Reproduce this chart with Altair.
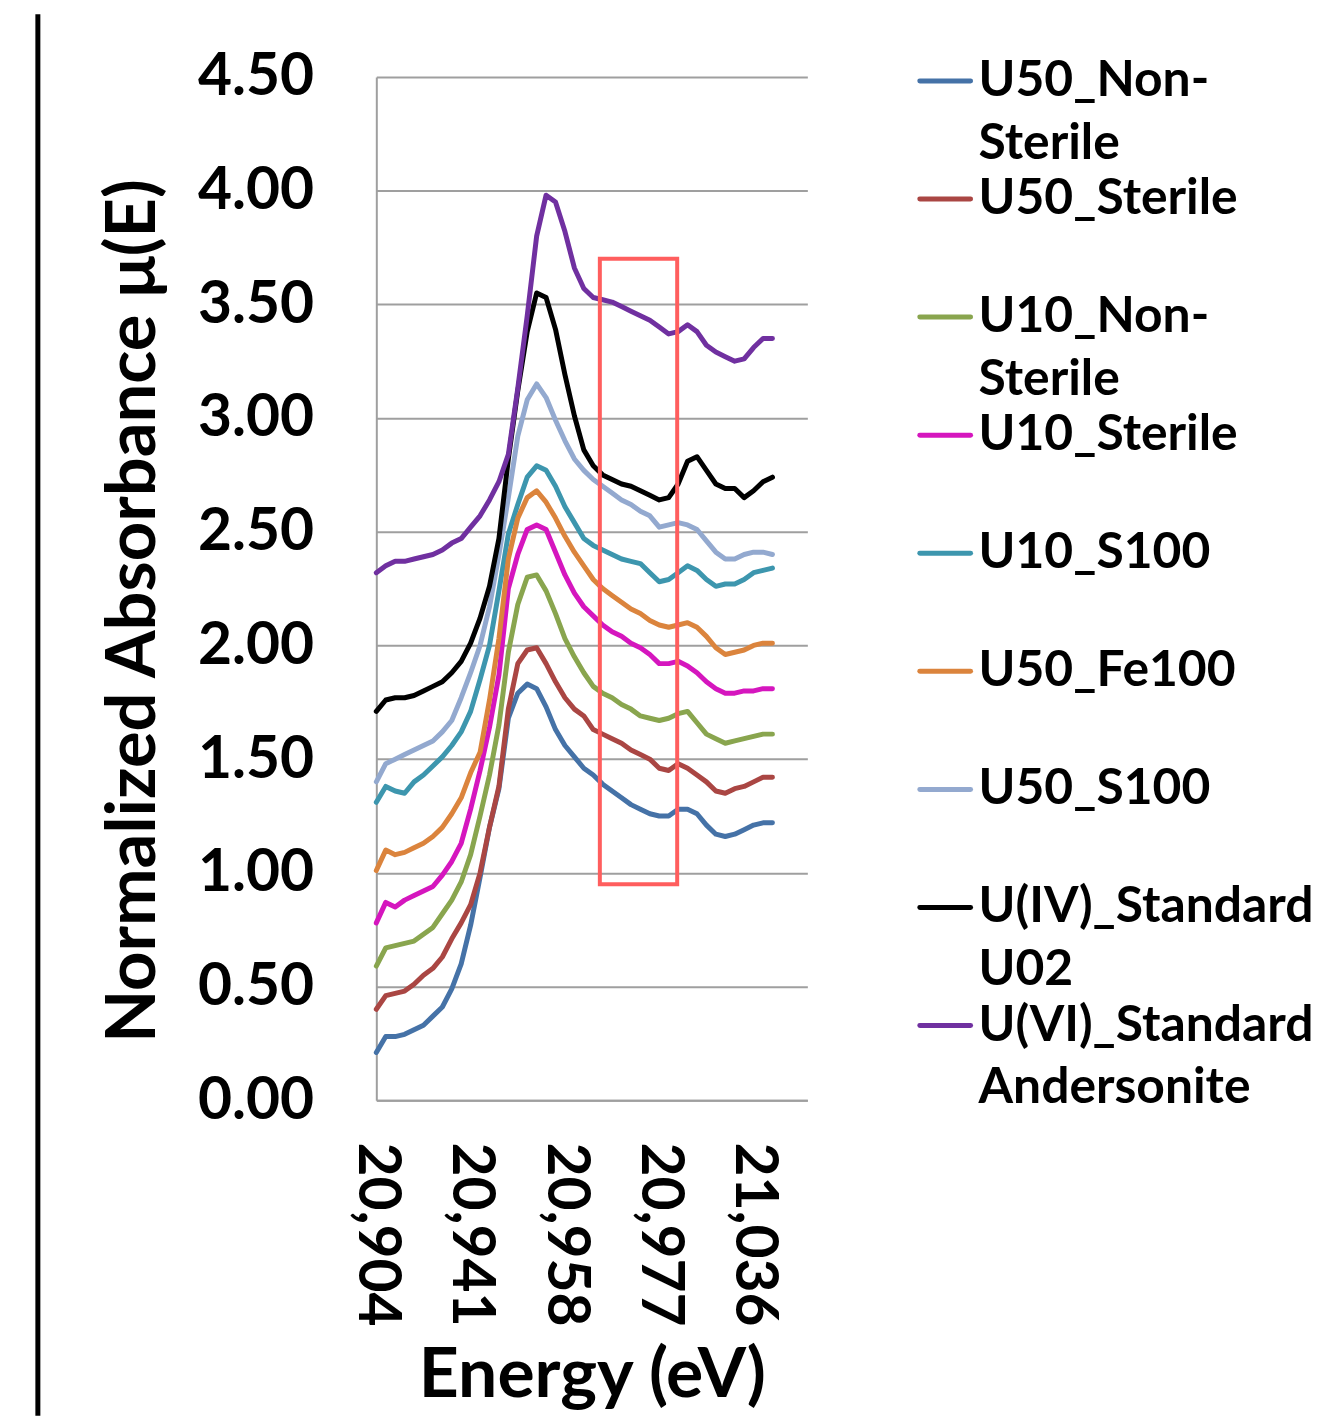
import altair as alt
import pandas as pd

# ---------------- data ----------------
energy_labels = ["20,904", "20,941", "20,958", "20,977", "21,036"]
label_positions = [0, 10, 20, 30, 40]
point_index = list(range(43))

series_names = [
    "U50_Non-Sterile", "U50_Sterile", "U10_Non-Sterile", "U10_Sterile",
    "U10_S100", "U50_Fe100", "U50_S100",
    "U(IV)_Standard U02", "U(VI)_Standard Andersonite",
]
series_colors = ["#4572A7", "#AA4643", "#89A54E", "#D516BE",
                 "#3D96AE", "#DB843D", "#93A9CF", "#000000", "#7030A0"]
legend_line1 = ["U50_Non-", "U50_Sterile", "U10_Non-", "U10_Sterile",
                "U10_S100", "U50_Fe100", "U50_S100", "U(IV)_Standard", "U(VI)_Standard"]
legend_line2 = ["Sterile", "", "Sterile", "", "", "", "", "U02", "Andersonite"]

u50_non_sterile = [0.21, 0.28, 0.28, 0.29, 0.31, 0.33, 0.37, 0.41, 0.49, 0.60,
                   0.77, 0.98, 1.20, 1.37, 1.68, 1.79, 1.83, 1.81, 1.73, 1.63,
                   1.56, 1.51, 1.46, 1.43, 1.39, 1.36, 1.33, 1.30, 1.28, 1.26,
                   1.25, 1.25, 1.28, 1.28, 1.26, 1.21, 1.17, 1.16, 1.17, 1.19,
                   1.21, 1.22, 1.22]
u50_sterile = [0.40, 0.46, 0.47, 0.48, 0.51, 0.55, 0.58, 0.63, 0.71, 0.78,
               0.86, 1.00, 1.20, 1.38, 1.72, 1.92, 1.98, 1.99, 1.92, 1.84,
               1.77, 1.72, 1.69, 1.63, 1.61, 1.59, 1.57, 1.54, 1.52, 1.50,
               1.46, 1.45, 1.48, 1.46, 1.43, 1.40, 1.36, 1.35, 1.37, 1.38,
               1.40, 1.42, 1.42]
u10_non_sterile = [0.59, 0.67, 0.68, 0.69, 0.70, 0.73, 0.76, 0.82, 0.88, 0.96,
                   1.08, 1.25, 1.43, 1.65, 1.97, 2.18, 2.30, 2.31, 2.24, 2.14,
                   2.03, 1.95, 1.88, 1.82, 1.79, 1.77, 1.74, 1.72, 1.69, 1.68,
                   1.67, 1.68, 1.70, 1.71, 1.66, 1.61, 1.59, 1.57, 1.58, 1.59,
                   1.60, 1.61, 1.61]
u10_sterile = [0.78, 0.87, 0.85, 0.88, 0.90, 0.92, 0.94, 0.99, 1.05, 1.13,
               1.28, 1.45, 1.64, 1.87, 2.25, 2.40, 2.51, 2.53, 2.51, 2.41,
               2.31, 2.23, 2.17, 2.13, 2.09, 2.06, 2.04, 2.01, 1.99, 1.96,
               1.92, 1.92, 1.93, 1.91, 1.88, 1.84, 1.81, 1.79, 1.79, 1.80,
               1.80, 1.81, 1.81]
u10_s100 = [1.31, 1.38, 1.36, 1.35, 1.40, 1.43, 1.47, 1.51, 1.56, 1.62,
            1.71, 1.85, 2.00, 2.24, 2.49, 2.62, 2.74, 2.79, 2.77, 2.70,
            2.61, 2.54, 2.47, 2.44, 2.42, 2.40, 2.38, 2.37, 2.36, 2.32,
            2.28, 2.29, 2.32, 2.35, 2.33, 2.29, 2.26, 2.27, 2.27, 2.29,
            2.32, 2.33, 2.34]
u50_fe100 = [1.01, 1.10, 1.08, 1.09, 1.11, 1.13, 1.16, 1.20, 1.26, 1.33,
             1.44, 1.53, 1.76, 2.03, 2.38, 2.56, 2.65, 2.68, 2.63, 2.56,
             2.48, 2.41, 2.35, 2.29, 2.25, 2.22, 2.19, 2.16, 2.14, 2.11,
             2.09, 2.08, 2.09, 2.10, 2.08, 2.04, 1.99, 1.96, 1.97, 1.98,
             2.00, 2.01, 2.01]
u50_s100 = [1.40, 1.48, 1.50, 1.52, 1.54, 1.56, 1.58, 1.62, 1.67, 1.77,
            1.88, 2.00, 2.17, 2.40, 2.65, 2.92, 3.08, 3.15, 3.09, 2.99,
            2.90, 2.82, 2.77, 2.73, 2.70, 2.67, 2.64, 2.62, 2.59, 2.57,
            2.52, 2.53, 2.54, 2.53, 2.51, 2.46, 2.41, 2.38, 2.38, 2.40,
            2.41, 2.41, 2.40]
u4_standard = [1.71, 1.76, 1.77, 1.77, 1.78, 1.80, 1.82, 1.84, 1.88, 1.93,
               2.01, 2.12, 2.26, 2.47, 2.82, 3.12, 3.38, 3.55, 3.53, 3.39,
               3.19, 3.01, 2.86, 2.79, 2.75, 2.73, 2.71, 2.70, 2.68, 2.66,
               2.64, 2.65, 2.71, 2.81, 2.83, 2.77, 2.71, 2.69, 2.69, 2.65,
               2.68, 2.72, 2.74]
u6_standard = [2.32, 2.35, 2.37, 2.37, 2.38, 2.39, 2.40, 2.42, 2.45, 2.47,
               2.52, 2.57, 2.64, 2.72, 2.84, 3.13, 3.45, 3.80, 3.98, 3.95,
               3.82, 3.66, 3.57, 3.53, 3.52, 3.51, 3.49, 3.47, 3.45, 3.43,
               3.40, 3.37, 3.38, 3.41, 3.38, 3.32, 3.29, 3.27, 3.25, 3.26,
               3.31, 3.35, 3.35]

all_series = [u50_non_sterile, u50_sterile, u10_non_sterile, u10_sterile,
              u10_s100, u50_fe100, u50_s100, u4_standard, u6_standard]

# highlighted region (x in point index, y in mu(E))
box_x = [23.7, 31.9]
box_y = [0.95, 3.70]

# ---------------- tables ----------------
rows = []
for name, vals in zip(series_names, all_series):
    for i, v in zip(point_index, vals):
        rows.append({"series": name, "idx": i, "mu": v})
df = pd.DataFrame(rows)

legend_df = pd.DataFrame({
    "series": series_names,
    "order": list(range(len(series_names))),
    "line1": legend_line1,
    "line2": legend_line2,
})
box_df = pd.DataFrame({"x0": [box_x[0]], "x1": [box_x[1]],
                       "y0": [box_y[0]], "y1": [box_y[1]]})

FONT = "Lato"
label_map = "{" + ",".join(f"'{p}':'{t}'" for p, t in zip(label_positions, energy_labels)) + "}"

color_scale = alt.Scale(domain=series_names, range=series_colors)
x_scale = alt.Scale(domain=[0, 45.7], nice=False, zero=False)
y_scale = alt.Scale(domain=[0, 4.5], nice=False, zero=False)
legend_scale = alt.Scale(domain=[0, 8], range=[4, 953], nice=False, zero=False)

lines = alt.Chart(df).mark_line(strokeWidth=5, strokeJoin="round", strokeCap="round").encode(
    x=alt.X("idx:Q", scale=x_scale,
            axis=alt.Axis(values=label_positions, labelExpr=f"{label_map}[datum.value]",
                          labelAngle=90, labelAlign="left", labelBaseline="middle",
                          labelPadding=42, labelLimit=500, ticks=False, grid=False,
                          labelFontSize=59, labelFont=FONT, labelFontWeight="bold",
                          labelColor="black", domainColor="#9f9f9f", domainWidth=2,
                          title="Energy (eV)", titleFont=FONT, titleFontSize=70,
                          titleFontWeight="bold", titleColor="black",
                          titleY=298, titleBaseline="alphabetic")),
    y=alt.Y("mu:Q", scale=y_scale,
            axis=alt.Axis(values=[0, 0.5, 1, 1.5, 2, 2.5, 3, 3.5, 4, 4.5], format=".2f",
                          ticks=False, labelPadding=63, labelFontSize=59, labelFont=FONT,
                          labelFontWeight="bold", labelColor="black",
                          grid=True, gridColor="#9f9f9f", gridWidth=2,
                          domainColor="#9f9f9f", domainWidth=2,
                          title="Normalized Absorbance \u03bc(E)", titleFont=FONT,
                          titleFontSize=69, titleFontWeight="bold", titleColor="black",
                          titleAngle=-90, titleX=-244, titleY=536,
                          titleAlign="center", titleBaseline="middle")),
    color=alt.Color("series:N", scale=color_scale, legend=None),
    order=alt.Order("idx:Q"),
)

box = alt.Chart(box_df).mark_rect(fillOpacity=0, stroke="#FF5E5E", strokeWidth=4).encode(
    x=alt.X("x0:Q", scale=x_scale),
    x2="x1:Q",
    y=alt.Y("y0:Q", scale=y_scale, axis=None),
    y2="y1:Q",
)

leg_sym = alt.Chart(legend_df).mark_rule(strokeWidth=5, strokeCap="round").encode(
    x=alt.value(546), x2=alt.value(597),
    y=alt.Y("order:Q", scale=legend_scale, axis=None),
    color=alt.Color("series:N", scale=color_scale, legend=None),
)
leg_txt1 = alt.Chart(legend_df).mark_text(
    align="left", baseline="middle", font=FONT, fontWeight="bold", fontSize=50, color="black"
).encode(
    x=alt.value(605),
    y=alt.Y("order:Q", scale=legend_scale, axis=None),
    text="line1:N",
)
leg_txt2 = alt.Chart(legend_df).mark_text(
    align="left", baseline="middle", font=FONT, fontWeight="bold", fontSize=50, color="black", dy=63
).encode(
    x=alt.value(605),
    y=alt.Y("order:Q", scale=legend_scale, axis=None),
    text="line2:N",
)

border = alt.Chart(pd.DataFrame({"a": [0]})).mark_rule(color="black", strokeWidth=5).encode(
    x=alt.value(-340), y=alt.value(-63), y2=alt.value(1345)
)

chart = alt.layer(lines, box, leg_sym, leg_txt1, leg_txt2, border).resolve_scale(
    y="independent"
).properties(
    width=433, height=1028,
    padding={"left": 27, "top": 0, "right": 5, "bottom": 5},
).configure_view(strokeWidth=0)

chart.save("out.html", embed_options={"renderer": "svg", "actions": False})
